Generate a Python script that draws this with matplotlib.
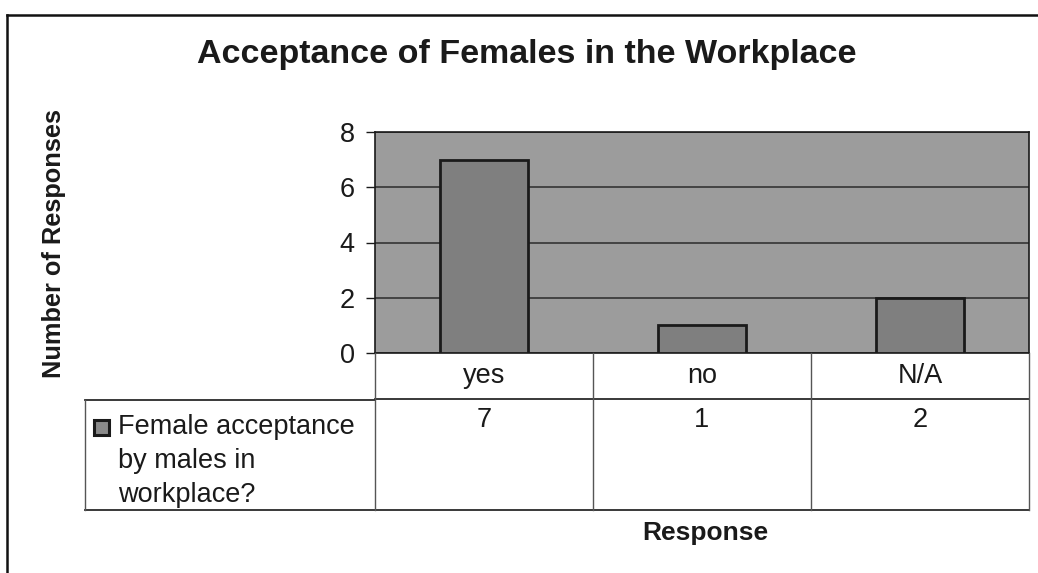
import matplotlib.pyplot as plt
from matplotlib.lines import Line2D
from matplotlib.patches import Rectangle
from matplotlib.transforms import blended_transform_factory

plt.rcParams['font.family'] = ['Liberation Sans', 'DejaVu Sans']

categories = ['yes', 'no', 'N/A']
responses = [7, 1, 2]
series_name = 'Female acceptance\nby males in\nworkplace?'
y_ticks = [0, 2, 4, 6, 8]

W, H = 1038, 573
fig = plt.figure(figsize=(W / 100, H / 100), dpi=100)


def fx(x):
    return x / W


def fy(y):
    return 1 - y / H


# plot area
ax = fig.add_axes([fx(375), fy(353), fx(1029 - 375), (353 - 132) / H])
ax.set_facecolor('#9c9c9c')
ax.bar(range(len(categories)), responses, width=0.405, color='#7f7f7f',
       edgecolor='#1a1a1a', linewidth=2.0, zorder=3)
ax.set_xlim(-0.5, len(categories) - 0.5)
ax.set_ylim(0, 8)
ax.set_yticks(y_ticks)
ax.set_xticks([])
ax.yaxis.grid(True, color='#2b2b2b', linewidth=1.1)
ax.set_axisbelow(True)
ax.tick_params(axis='y', length=6.5, width=1, labelsize=19.5, pad=8, colors='#1a1a1a')
for s in ax.spines.values():
    s.set_color('#1a1a1a')
    s.set_linewidth(1.2)

fig.text(fx(527), fy(55), 'Acceptance of Females in the Workplace',
         ha='center', va='center', fontsize=24.5, fontweight='bold', color='#1a1a1a')
fig.text(fx(54), fy(244), 'Number of Responses', rotation=90,
         ha='center', va='center', fontsize=18.3, fontweight='bold', color='#1a1a1a')
fig.text(fx(705), fy(533), 'Response', ha='center', va='center',
         fontsize=19, fontweight='bold', color='#1a1a1a')

# data table under the plot
tr = blended_transform_factory(ax.transData, fig.transFigure)
lc = '#2a2a2a'


def hline(x0, x1, y, lw=1.3, c=lc):
    fig.add_artist(Line2D([fx(x0), fx(x1)], [fy(y), fy(y)], color=c, linewidth=lw))


def vline(x, y0, y1, lw=1.0, c=lc):
    fig.add_artist(Line2D([fx(x), fx(x)], [fy(y0), fy(y1)], color=c, linewidth=lw))


hline(375, 1029, 399)
hline(85, 375, 400)
hline(85, 1029, 510)
vline(85, 400, 510, lw=1.0, c='#555555')
for i in range(len(categories) + 1):
    xd = i - 0.5
    fig.add_artist(Line2D([xd, xd], [fy(353), fy(510)], transform=tr,
                          color='#555555', linewidth=1.0))

for i, (cat, val) in enumerate(zip(categories, responses)):
    fig.text(i, fy(376), cat, transform=tr, ha='center', va='center',
             fontsize=19.5, color='#1a1a1a')
    fig.text(i, fy(420), str(val), transform=tr, ha='center', va='center',
             fontsize=19.5, color='#1a1a1a')

# legend key
fig.add_artist(Rectangle((fx(94), fy(435)), fx(15), 15 / H, facecolor='#8a8a8a',
                         edgecolor='#1a1a1a', linewidth=2.2))
fig.text(fx(118), fy(461), series_name, ha='left', va='center', fontsize=19.5,
         linespacing=1.38, color='#1a1a1a')

# scanned page frame
hline(7, W, 15, lw=1.8, c='#111111')
vline(7, 15, H, lw=1.8, c='#111111')

fig.savefig('out.png', dpi=100, facecolor='white')
